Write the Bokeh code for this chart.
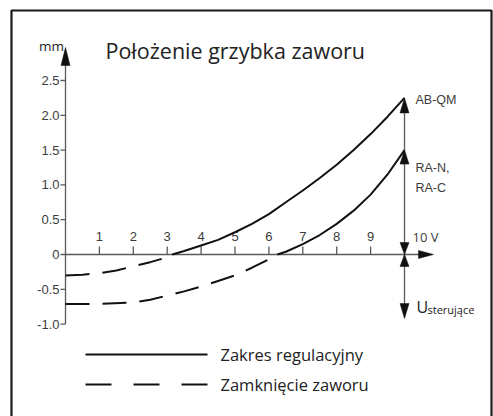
from bokeh.plotting import figure
from bokeh.models import Range1d
from bokeh.core.properties import value
from bokeh.embed import file_html
from bokeh.resources import INLINE

# ---------------- data ----------------
ab_qm_x = [3.15, 3.5, 4, 4.5, 5, 5.5, 6, 6.5, 7, 7.5, 8, 8.5, 9, 9.5, 10]
ab_qm_y = [0, 0.05, 0.13, 0.21, 0.32, 0.44, 0.58, 0.75, 0.92, 1.10, 1.29, 1.50, 1.73, 1.98, 2.25]
ra_x = [6.25, 6.5, 7, 7.5, 8, 8.5, 9, 9.5, 10]
ra_y = [0, 0.04, 0.15, 0.28, 0.44, 0.63, 0.86, 1.15, 1.50]
close_ab_x = [0, 0.5, 1, 1.5, 2, 2.5, 3, 3.15]
close_ab_y = [-0.30, -0.29, -0.27, -0.23, -0.17, -0.11, -0.04, 0]
close_ra_x = [0, 1, 2, 2.5, 3, 3.5, 4, 4.5, 5, 5.5, 6, 6.25]
close_ra_y = [-0.71, -0.71, -0.69, -0.65, -0.59, -0.53, -0.46, -0.38, -0.30, -0.19, -0.07, 0]

x_ticks = [1, 2, 3, 4, 5, 6, 7, 8, 9]
x_tick_labels = ["1", "2", "3", "4", "5", "6", "7", "8", "9"]
x_max = 10
x_max_label = "10 V"
y_ticks = [2.5, 2.0, 1.5, 1.0, 0.5, 0, -0.5, -1.0]
y_tick_labels = ["2.5", "2.0", "1.5", "1.0", "0.5", "0", "-0.5", "-1.0"]
u_bottom = -0.92

title = "Położenie grzybka zaworu"
unit_label = "mm"
series_labels = ["AB-QM", "RA-N,", "RA-C"]
legend_labels = ["Zakres regulacyjny", "Zamknięcie zaworu"]

# ---------------- geometry ----------------
W, H = 493, 416
PAGE0 = 0                    # page px of canvas top-left
SX, SY = 33.9, 69.6          # px per data unit
OX, OY = 65, 254             # page px of data origin
def fx(px):
    return (px - OX) / SX
def fy(py):
    return (OY - py) / SY

p = figure(width=W, height=H, output_backend="svg", toolbar_location=None,
           x_range=Range1d(fx(PAGE0), fx(PAGE0 + W)), y_range=Range1d(fy(PAGE0 + H), fy(PAGE0)),
           x_axis_type=None, y_axis_type=None, min_border=0)
p.xgrid.visible = False
p.ygrid.visible = False
p.outline_line_color = None
p.background_fill_color = "white"

AX = "#5a5a5a"
TXT = "#3c3c3c"
NUMF = value("Liberation Sans")
TF = value("Open Sans")

# frame
p.line([fx(11), fx(11), fx(491), fx(491)], [fy(430), fy(10), fy(10), fy(430)],
       line_color="#1a1a1a", line_width=2.2)

# y axis
p.line([0, 0], [y_ticks[-1], fy(60)], line_color=AX, line_width=1.3)
p.segment(x0=[0] * len(y_ticks), y0=y_ticks, x1=[fx(OX - 5)] * len(y_ticks), y1=y_ticks,
          line_color=AX, line_width=1.3)
p.text(x=[fx(OX - 6)] * len(y_ticks), y=y_ticks, text=y_tick_labels,
       text_align="right", text_baseline="middle", text_font=NUMF,
       text_font_size=value("13px"), text_color=TXT)

# x axis
p.line([0, fx(420)], [0, 0], line_color=AX, line_width=1.3)
p.segment(x0=x_ticks, y0=[0] * len(x_ticks), x1=x_ticks, y1=[fy(OY - 8)] * len(x_ticks),
          line_color=AX, line_width=1.3)
p.text(x=x_ticks, y=[fy(OY - 18)] * len(x_ticks), text=x_tick_labels,
       text_align="center", text_baseline="middle", text_font=NUMF,
       text_font_size=value("13px"), text_color=TXT)

# vertical line at 10 V
p.line([x_max, x_max], [ab_qm_y[-1] - 0.05, u_bottom + 0.1], line_color=AX, line_width=1.3)

def tri(tx, ty, d, L, w):
    if d == "up":
        return [tx, tx - w / SX, tx + w / SX], [ty, ty - L / SY, ty - L / SY]
    if d == "down":
        return [tx, tx - w / SX, tx + w / SX], [ty, ty + L / SY, ty + L / SY]
    return [tx, tx - L / SX, tx - L / SX], [ty, ty - w / SY, ty + w / SY]

arrows = [
    tri(0, fy(47), "up", 18, 4.5),
    tri(fx(433), 0, "right", 15, 4),
    tri(x_max, ab_qm_y[-1], "up", 15, 4.5),
    tri(x_max, ra_y[-1], "up", 14, 4.5),
    tri(x_max, 0, "down", 12, 4.5),
    tri(x_max, 0, "up", 12, 4.5),
    tri(x_max, u_bottom, "down", 15, 4.5),
]
p.patches(xs=[a[0] for a in arrows], ys=[a[1] for a in arrows],
          fill_color="#111111", line_color="#111111", line_width=0.5)

# curves
p.line(ab_qm_x, ab_qm_y, line_color="#111111", line_width=2)
p.line(ra_x, ra_y, line_color="#111111", line_width=2)
p.line(close_ab_x, close_ab_y, line_color="#111111", line_width=2, line_dash="24 13")
p.line(close_ra_x, close_ra_y, line_color="#111111", line_width=2, line_dash="24 13")

# labels
p.text(x=[fx(105)], y=[fy(50)], text=[title], text_align="left", text_baseline="middle",
       text_font=TF, text_font_size=value("21.5px"), text_color="#222222")
p.text(x=[fx(51)], y=[fy(45)], text=[unit_label], text_align="center", text_baseline="middle",
       text_font=TF, text_font_size=value("13.5px"), text_color="#222222")
p.text(x=[fx(415)] * 3, y=[ab_qm_y[-1] - 0.03, fy(167), fy(187)], text=series_labels,
       text_align="left", text_baseline="middle", text_font=NUMF,
       text_font_size=value("12.5px"), text_color=TXT)
p.text(x=[fx(412)], y=[fy(236)], text=[x_max_label], text_align="left", text_baseline="middle",
       text_font=TF, text_font_size=value("13px"), text_color=TXT)
p.text(x=[fx(416)], y=[fy(306)], text=["U"], text_align="left", text_baseline="alphabetic",
       text_font=TF, text_font_size=value("16px"), text_color="#222222")
p.text(x=[fx(427)], y=[fy(309)], text=["sterujące"], text_align="left", text_baseline="alphabetic",
       text_font=TF, text_font_size=value("11px"), text_color="#222222")

# legend
p.line([fx(85), fx(207)], [fy(354), fy(354)], line_color="#111111", line_width=2)
p.line([fx(85), fx(207)], [fy(384), fy(384)], line_color="#111111", line_width=2, line_dash="26 22")
p.text(x=[fx(220)] * 2, y=[fy(354), fy(384)], text=legend_labels, text_align="left",
       text_baseline="middle", text_font=TF, text_font_size=value("16.5px"), text_color="#222222")

open("out.html", "w").write(file_html(p, INLINE))
